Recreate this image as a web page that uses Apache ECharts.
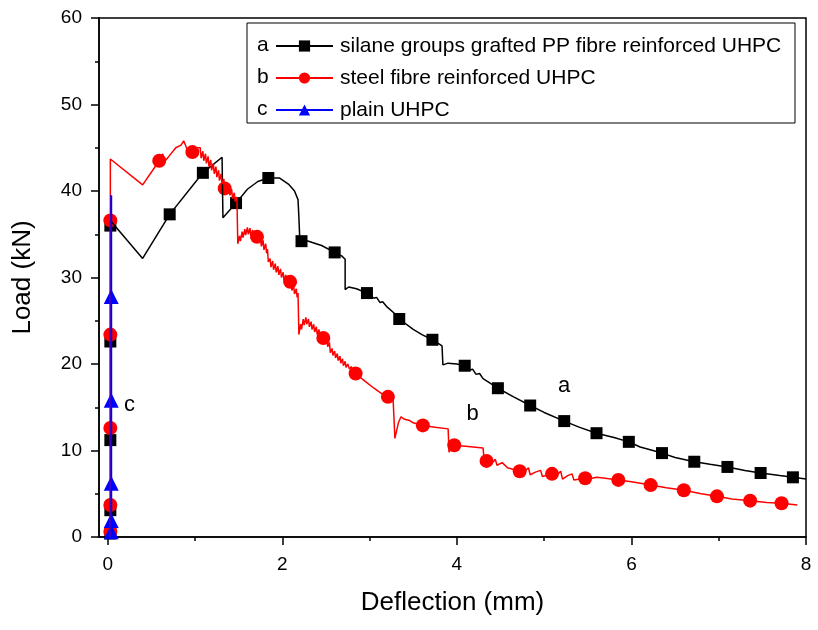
<!DOCTYPE html>
<html>
<head>
<meta charset="utf-8">
<script src="https://cdn.jsdelivr.net/npm/echarts@6/dist/echarts.min.js"></script>
<style>
  html, body { margin: 0; padding: 0; background: #fff; }
  #chart { width: 818px; height: 630px; }
</style>
</head>
<body>
<div id="chart"></div>
<script>
// Load–deflection curves of three UHPC mixes: [deflection (mm), load (kN)]
const seriesNames = [
  'silane groups grafted PP fibre reinforced UHPC',
  'steel fibre reinforced UHPC',
  'plain UHPC'
];
const seriesLetters = ['a', 'b', 'c'];
const seriesColors = ['#000000', '#ff0000', '#0000ff'];

const xTicks = [0, 2, 4, 6, 8];
const xMinorTicks = [1, 3, 5, 7];

// a: silane groups grafted PP fibre
const curveA = [
  [0.03, 0], [0.03, 36.6], [0.40, 32.2], [0.71, 37.3], [1.09, 42.1], [1.31, 43.9],
  [1.32, 36.9], [1.47, 38.6], [1.60, 40.2], [1.72, 41.1], [1.84, 41.5], [1.97, 41.5],
  [2.07, 40.8], [2.14, 40.0], [2.18, 39.0], [2.19, 37.0], [2.20, 34.5], [2.30, 34.2],
  [2.45, 33.7], [2.60, 32.9], [2.68, 32.5], [2.72, 32.1], [2.72, 28.6], [2.76, 28.9],
  [2.85, 28.7], [2.97, 28.2], [3.05, 27.6], [3.08, 27.7], [3.12, 27.1], [3.15, 27.2],
  [3.20, 26.6], [3.28, 25.9], [3.34, 25.2], [3.50, 24.0], [3.60, 23.4], [3.72, 22.8],
  [3.80, 22.3], [3.83, 22.1], [3.84, 19.9], [3.90, 20.1], [4.00, 20.0], [4.09, 19.8],
  [4.15, 19.3], [4.18, 19.4], [4.22, 18.8], [4.26, 18.9], [4.30, 18.3], [4.47, 17.2],
  [4.65, 16.2], [4.84, 15.2], [5.00, 14.4], [5.23, 13.4], [5.40, 12.7], [5.60, 12.0],
  [5.80, 11.5], [5.97, 11.0], [6.10, 10.4], [6.35, 9.7], [6.50, 9.2], [6.72, 8.7],
  [6.90, 8.4], [7.10, 8.1], [7.30, 7.7], [7.48, 7.4], [7.70, 7.1], [7.85, 6.9], [8.00, 6.7]
];
const markersA = [
  [0.03, 0.4], [0.03, 3.1], [0.03, 11.2], [0.03, 22.6], [0.03, 36.0], [0.71, 37.3],
  [1.09, 42.1], [1.47, 38.6], [1.84, 41.5], [2.22, 34.2], [2.60, 32.9], [2.97, 28.2],
  [3.34, 25.2], [3.72, 22.8], [4.09, 19.8], [4.47, 17.2], [4.84, 15.2], [5.23, 13.4],
  [5.60, 12.0], [5.97, 11.0], [6.35, 9.7], [6.72, 8.7], [7.10, 8.1], [7.48, 7.4], [7.85, 6.9]
];

// b: steel fibre
const curveB = [
  [0.03, 0], [0.03, 43.7], [0.40, 40.7], [0.59, 43.5], [0.63, 44.3], [0.65, 43.4],
  [0.70, 44.0], [0.78, 45.0], [0.84, 45.3], [0.87, 45.8], [0.89, 45.8], [0.91, 44.8],
  [0.97, 44.5], [1.03, 45.0], [1.06, 45.0],
  [1.07, 43.8], [1.09, 44.6], [1.10, 43.5], [1.12, 44.3], [1.13, 43.2], [1.15, 44.0],
  [1.16, 42.8], [1.18, 43.6], [1.19, 42.4], [1.21, 43.2], [1.22, 42.0], [1.24, 42.8],
  [1.25, 41.6], [1.27, 42.4], [1.28, 41.2], [1.30, 42.0], [1.31, 40.8], [1.33, 41.4],
  [1.34, 40.3], [1.36, 41.0], [1.37, 39.9], [1.39, 40.6], [1.40, 39.5], [1.42, 40.2],
  [1.43, 39.1], [1.45, 39.8], [1.46, 38.8], [1.48, 39.3], [1.49, 33.9],
  [1.51, 34.8], [1.52, 34.2], [1.54, 35.3], [1.55, 34.6], [1.57, 35.6], [1.58, 34.9],
  [1.60, 35.8], [1.61, 35.0], [1.63, 35.7], [1.64, 34.8], [1.66, 35.5], [1.67, 34.6],
  [1.69, 35.3], [1.70, 34.3], [1.72, 35.0], [1.73, 34.0], [1.75, 34.7], [1.76, 33.6],
  [1.78, 34.3], [1.79, 33.2], [1.81, 33.9], [1.82, 32.8], [1.83, 33.3], [1.84, 31.8],
  [1.86, 32.2], [1.87, 31.2], [1.89, 31.9], [1.90, 30.9], [1.92, 31.6], [1.93, 30.6],
  [1.95, 31.3], [1.96, 30.3], [1.98, 31.0], [1.99, 30.0], [2.01, 30.6], [2.02, 29.6],
  [2.04, 30.3], [2.05, 29.3], [2.07, 29.9], [2.08, 28.9], [2.10, 29.5], [2.11, 28.5],
  [2.13, 29.1], [2.14, 28.1], [2.16, 28.7], [2.17, 27.7], [2.18, 28.2], [2.19, 23.4],
  [2.21, 24.6], [2.22, 24.0], [2.24, 25.2], [2.25, 24.5], [2.27, 25.4], [2.28, 24.6],
  [2.30, 25.2], [2.31, 24.3], [2.33, 24.9], [2.34, 24.0], [2.36, 24.6], [2.37, 23.7],
  [2.39, 24.3], [2.40, 23.4], [2.42, 24.0], [2.43, 23.1], [2.45, 23.6], [2.46, 22.8],
  [2.48, 23.3], [2.49, 22.4], [2.51, 22.9], [2.52, 22.0], [2.54, 22.5], [2.55, 21.3],
  [2.57, 21.8], [2.58, 21.0], [2.60, 21.5], [2.61, 20.7], [2.63, 21.2], [2.64, 20.4],
  [2.66, 20.9], [2.67, 20.1], [2.69, 20.6], [2.70, 19.8], [2.72, 20.3], [2.73, 19.6],
  [2.75, 20.0], [2.77, 19.4], [2.79, 19.7], [2.81, 19.2], [2.84, 18.9],
  [2.95, 18.0], [3.05, 17.2], [3.15, 16.5], [3.21, 16.2], [3.27, 15.8], [3.29, 11.4],
  [3.33, 13.2], [3.36, 13.9], [3.40, 13.6], [3.45, 13.5], [3.50, 13.2], [3.61, 12.9],
  [3.75, 12.7], [3.90, 12.5], [3.91, 9.8], [3.95, 10.6], [4.10, 10.5], [4.30, 10.3],
  [4.31, 9.2], [4.34, 8.8], [4.42, 8.7], [4.44, 9.0], [4.46, 8.3], [4.52, 8.6],
  [4.54, 8.8], [4.58, 8.0], [4.72, 7.6], [4.78, 7.6], [4.82, 8.0], [4.84, 7.2],
  [4.90, 7.5], [4.96, 7.7], [4.98, 7.0], [5.09, 7.3], [5.16, 7.3], [5.19, 7.6],
  [5.21, 6.7], [5.27, 7.1], [5.32, 7.3], [5.34, 6.6], [5.47, 6.8], [5.55, 6.8],
  [5.60, 6.9], [5.70, 6.8], [5.85, 6.6], [6.00, 6.4], [6.22, 6.0], [6.40, 5.7],
  [6.60, 5.4], [6.80, 5.0], [6.98, 4.7], [7.15, 4.4], [7.36, 4.2], [7.55, 4.0],
  [7.72, 3.9], [7.90, 3.7]
];
const markersB = [
  [0.03, 0.6], [0.03, 3.7], [0.03, 12.6], [0.03, 23.4], [0.03, 36.6], [0.59, 43.5],
  [0.97, 44.5], [1.34, 40.3], [1.71, 34.7], [2.09, 29.5], [2.47, 23.0], [2.84, 18.9],
  [3.21, 16.2], [3.61, 12.9], [3.97, 10.6], [4.34, 8.8], [4.72, 7.6], [5.09, 7.3],
  [5.47, 6.8], [5.85, 6.6], [6.22, 6.0], [6.60, 5.4], [6.98, 4.7], [7.36, 4.2], [7.72, 3.9]
];

// c: plain UHPC
const curveC = [[0.04, 0], [0.04, 39.5]];
const markersC = [[0.04, 0.6], [0.04, 1.9], [0.04, 6.2], [0.04, 15.8], [0.04, 27.8]];

// In-plot letters placed beside each curve
const curveLetterPos = [[5.23, 17.5], [4.18, 14.2], [0.25, 15.3]];

const curves = [curveA, curveB, curveC];
const markerSets = [markersA, markersB, markersC];
const symbols = ['rect', 'circle', 'triangle'];
const symbolSizes = [12, 14, 15];
const lineWidths = [1.5, 1.5, 2];

const font = 'Liberation Sans, Arial, sans-serif';
const chart = echarts.init(document.getElementById('chart'), null, { renderer: 'canvas' });

const series = [];
curves.forEach((curve, i) => {
  series.push({
    name: seriesNames[i],
    type: 'line',
    data: curve,
    symbol: symbols[i],
    symbolSize: symbolSizes[i],
    showSymbol: false,
    lineStyle: { color: seriesColors[i], width: lineWidths[i] },
    itemStyle: { color: seriesColors[i] },
    animation: false,
    silent: true
  });
  series.push({
    name: 'markers-' + seriesLetters[i],
    type: 'scatter',
    data: markerSets[i],
    symbol: symbols[i],
    symbolSize: symbolSizes[i],
    itemStyle: { color: seriesColors[i], opacity: 1 },
    animation: false,
    silent: true
  });
});
series.push({
  name: 'letters',
  type: 'scatter',
  data: curveLetterPos.map((p, i) => ({ value: p, label: { formatter: seriesLetters[i] } })),
  symbolSize: 1,
  itemStyle: { color: 'rgba(0,0,0,0)', opacity: 1 },
  label: { show: true, position: 'inside', color: '#000', opacity: 1, fontSize: 22, fontFamily: font },
  animation: false,
  silent: true
});

const legendFont = 21;
const option = {
  backgroundColor: '#fff',
  animation: false,
  grid: {
    left: 99, right: 12, top: 18, bottom: 93,
    show: true, borderColor: '#000', borderWidth: 1.5, backgroundColor: 'transparent'
  },
  legend: {
    data: seriesNames,
    orient: 'vertical',
    left: 275,
    top: 35,
    padding: 0,
    itemWidth: 57,
    itemHeight: 14,
    itemGap: 10,
    textStyle: { fontSize: legendFont, fontFamily: font, color: '#000', lineHeight: 22, padding: [0, 0, 0, 2] },
    selectedMode: false
  },
  graphic: [
    { type: 'rect', shape: { x: 247, y: 23, width: 548, height: 100 },
      style: { fill: '#fff', stroke: '#000', lineWidth: 1 }, z: -1, zlevel: 0 }
  ].concat(seriesLetters.map((t, i) => ({
    type: 'text', left: 257, top: 35 + i * 32,
    style: { text: t, fontSize: legendFont, fontFamily: font, fill: '#000' }
  }))),
  xAxis: [
    {
      type: 'value', min: -0.1, max: 8,
      name: 'Deflection (mm)', nameLocation: 'middle', nameGap: 53,
      nameTextStyle: { fontSize: 26, fontFamily: font, color: '#000' },
      axisLine: { show: true, onZero: false, lineStyle: { color: '#000', width: 1.5 } },
      axisTick: { show: true, customValues: xTicks, length: 8, lineStyle: { color: '#000', width: 1.5 } },
      axisLabel: { customValues: xTicks, fontSize: 19, margin: 18, color: '#000', fontFamily: font },
      splitLine: { show: false }
    },
    {
      type: 'value', min: -0.1, max: 8, position: 'bottom',
      axisLine: { show: false, onZero: false },
      axisTick: { show: true, customValues: xMinorTicks, length: 4, lineStyle: { color: '#000', width: 1.5 } },
      axisLabel: { show: false },
      splitLine: { show: false }
    }
  ],
  yAxis: {
    type: 'value', min: 0, max: 60, interval: 10,
    name: 'Load (kN)', nameLocation: 'middle', nameGap: 63, nameRotate: 90,
    nameTextStyle: { fontSize: 26, fontFamily: font, color: '#000' },
    axisLine: { show: true, onZero: false, lineStyle: { color: '#000', width: 1.5 } },
    axisTick: { show: true, length: 8, lineStyle: { color: '#000', width: 1.5 } },
    minorTick: { show: true, splitNumber: 2, length: 4, lineStyle: { color: '#000', width: 1.5 } },
    axisLabel: { fontSize: 19, margin: 17, color: '#000', fontFamily: font },
    splitLine: { show: false }
  },
  series: series
};
chart.setOption(option);
</script>
</body>
</html>
